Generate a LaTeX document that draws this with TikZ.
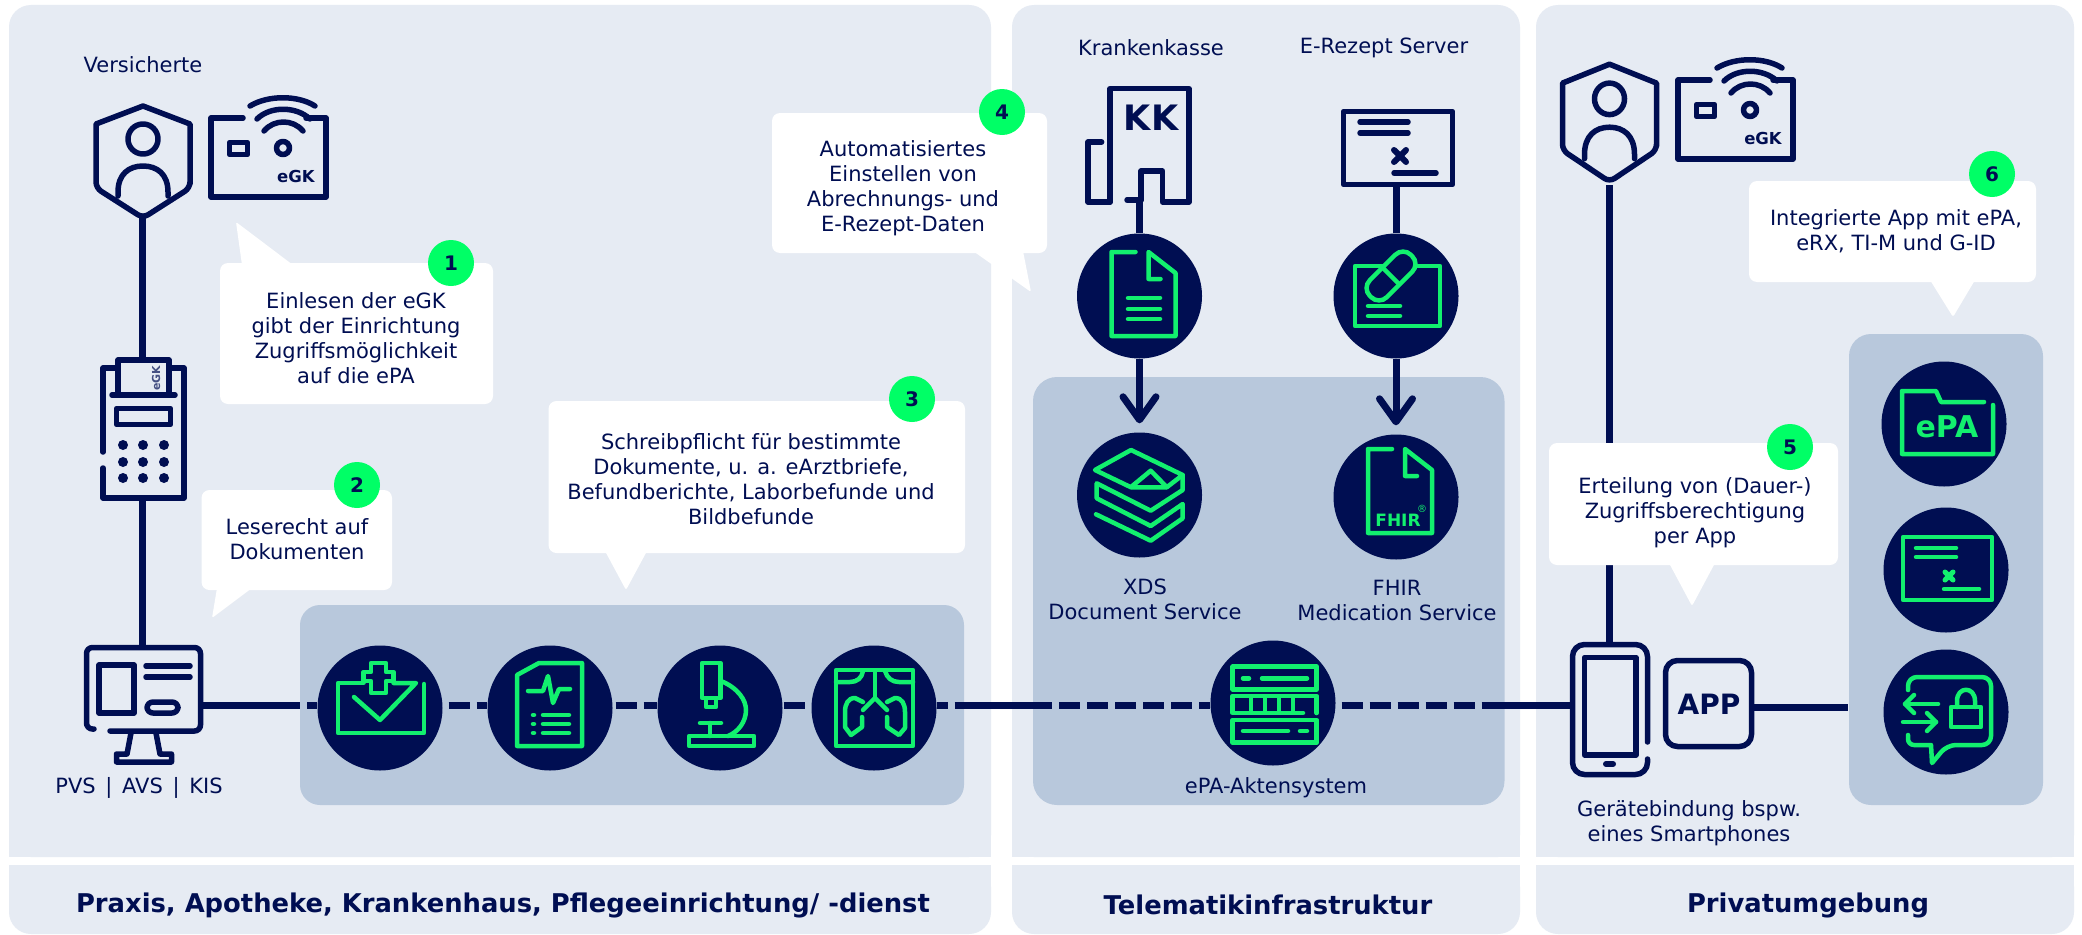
\documentclass[tikz,border=0pt]{standalone}
\usepackage{fontspec}
\setmainfont{DejaVu Sans}
\usetikzlibrary{arrows.meta}
\definecolor{gnavy}{HTML}{000E52}
\definecolor{panelc}{HTML}{E6EBF3}
\definecolor{subc}{HTML}{B8C8DC}
\definecolor{iconc}{HTML}{12F06E}
\definecolor{badgec}{HTML}{00FF66}
\pgfdeclarelayer{panels}\pgfdeclarelayer{conn}
\pgfsetlayers{panels,conn,main}
\tikzset{
 ink/.style={draw=gnavy,line width=5.5pt,line join=round,line cap=round},
 gl/.style={draw=iconc,line width=4.5pt,line join=round,line cap=round},
 link/.style={draw=gnavy,line width=7pt},
 dashlink/.style={draw=gnavy,line width=7pt,dash pattern=on 21pt off 7pt},
 bub/.style={circle,fill=gnavy,minimum size=125pt,inner sep=0pt},
 iconbox/.style={rectangle,inner sep=0pt},
 lbl/.style={inner sep=0pt,align=center,text=gnavy,font=\fontsize{21}{25}\selectfont},
 foot/.style={inner sep=0pt,text=gnavy,font=\fontsize{25.8}{28}\bfseries\selectfont},
 badge/.style={circle,fill=badgec,minimum size=46pt,inner sep=0pt,text=gnavy,font=\fontsize{20}{20}\bfseries\selectfont},
 calloutbox/.style={rectangle,fill=white,rounded corners=8pt,inner sep=0pt},
 tail/.style={fill=white,rounded corners=1.5pt},
 pics/shieldicon/.style={code={
   \draw[ink] (0,-56) -- (47,-38) -- (47,22) [rounded corners=6pt] -- (47,26) -- (0,56) -- (-47,26) [sharp corners] -- (-47,-38) -- cycle;
   \draw[ink] (0,-23) circle (15);
   \draw[ink] (-25,34) -- (-25,30) .. controls (-25,12) and (-14,4) .. (0,4) .. controls (14,4) and (25,12) .. (25,30) -- (25,34);
 }},
 pics/cardicon/.style={code={
   \draw[ink] (243,118) -- (211,118) -- (211,197) -- (326,197) -- (326,118) -- (306,118);
   \draw[ink,fill=panelc] (229.5,142.5) rectangle (247.5,154.5);
   \draw[ink,fill=panelc] (283,148) circle (6.5);
   \draw[ink] (264,131) .. controls (274,119) and (293,119) .. (303,131);
   \draw[ink] (257,119) .. controls (270,106) and (296,106) .. (310,119);
   \draw[ink] (250,106) .. controls (268,95) and (298,95) .. (315,106);
   \node[inner sep=0pt,text=gnavy,font=\fontsize{16.5}{16.5}\bfseries\selectfont] at (296,176) {eGK};
 }},
 pics/docicon/.style={code={
   \draw[gl] (-4,-44) -- (-28,-44) -- (-28,40) -- (36,40) -- (36,-23) -- (9,-44) -- (9,-17) -- (21,-17);
 }}
}
\begin{document}
\begin{tikzpicture}[x=1pt,y=-1pt]
\useasboundingbox (0,0) rectangle (2082,934);
\begin{pgfonlayer}{panels}
 \fill[white] (0,0) rectangle (2082,934);
 % big panels
 \fill[panelc,rounded corners=22pt] (9,5) rectangle (991,857);
 \fill[panelc] (9,60) rectangle (991,857);
 \fill[panelc,rounded corners=22pt] (1012,5) rectangle (1520,857);
 \fill[panelc] (1012,60) rectangle (1520,857);
 \fill[panelc,rounded corners=22pt] (1536,5) rectangle (2074,857);
 \fill[panelc] (1536,60) rectangle (2074,857);
 % footers
 \fill[panelc,rounded corners=22pt] (9,865) rectangle (991,934);
 \fill[panelc] (9,865) rectangle (991,900);
 \fill[panelc,rounded corners=22pt] (1012,865) rectangle (1520,934);
 \fill[panelc] (1012,865) rectangle (1520,900);
 \fill[panelc,rounded corners=22pt] (1536,865) rectangle (2074,934);
 \fill[panelc] (1536,865) rectangle (2074,900);
 % inner panels
 \fill[subc,rounded corners=20pt] (300,605) rectangle (964,805);
 \fill[subc,rounded corners=24pt] (1033,377) rectangle (1504.5,805);
 \fill[subc,rounded corners=22pt] (1849,334) rectangle (2043,805);
\end{pgfonlayer}

% anchor nodes of the line icons
\node[iconbox,minimum width=94pt,minimum height=112pt] (shieldL) at (142.5,162) {};
\node[iconbox,minimum width=94pt,minimum height=118pt] (shieldR) at (1609,126) {};
\node[iconbox,minimum width=85pt,minimum height=140pt] (term) at (142.5,428) {};
\node[iconbox,minimum width=119pt,minimum height=118pt] (pc) at (143.5,704) {};
\node[iconbox,minimum width=80pt,minimum height=135pt] (phone) at (1610,709.5) {};
\node[iconbox,minimum width=91pt,minimum height=91pt] (app) at (1708.5,707) {};
\node[iconbox,minimum width=100pt,minimum height=114pt] (kk) at (1139,145) {};
\node[iconbox,minimum width=113pt,minimum height=77pt] (rez) at (1396,147.5) {};
\coordinate (s0) at (300,705);
\coordinate (s1) at (1033,705);
\coordinate (s2) at (1503,705);
\coordinate (s3) at (1848,707);

% circles
\node[bub] (c1) at (380,708) {};
\node[bub] (c2) at (550,708) {};
\node[bub] (c3) at (720,708) {};
\node[bub] (c4) at (874,708) {};
\node[bub] (kdoc) at (1139.5,296) {};
\node[bub] (rx) at (1396,296) {};
\node[bub] (xds) at (1139.5,495) {};
\node[bub] (fhir) at (1396,497) {};
\node[bub] (akte) at (1273,703) {};
\node[bub] (epa) at (1944,424) {};
\node[bub] (cert) at (1946,570) {};
\node[bub] (lock) at (1946,712) {};

\begin{pgfonlayer}{conn}
 \draw[link] (shieldL.south) -- (shieldL.south |- term.north);
 \draw[link] (term.south) -- (term.south |- pc.north);
 \draw[link] (pc.east |- s0) -- (s0);
 \draw[dashlink,dash phase=21pt] (s0) -- (s0 -| c1.west);
 \draw[dashlink,dash phase=22pt] (s0 -| c1.east) -- (s0 -| c2.west);
 \draw[dashlink,dash phase=25pt] (s0 -| c2.east) -- (s0 -| c3.west);
 \draw[dashlink,dash phase=27pt] (s0 -| c3.east) -- (s0 -| c4.west);
 \draw[link,dash pattern=on 11pt off 7pt on 100pt off 0pt] (s0 -| c4.east) -- (s1);
 \draw[dashlink,dash phase=2pt] (s1) -- (s1 -| akte.west);
 \draw[dashlink,dash phase=22pt] (s1 -| akte.east) -- (s2);
 \draw[link] (s2) -- (s2 -| phone.west);
 \draw[link] (shieldR.south) -- (shieldR.south |- phone.north);
 \draw[link] (app.east) -- (s3);
 \draw[link] (kdoc.north) -- (kdoc.north |- kk.south);
 \draw[link] (rx.north) -- (rx.north |- rez.south);
 \draw[link,line cap=butt,-{Straight Barb[length=23pt,width=33pt,round]},shorten >=9pt] (kdoc.south) -- (xds.north);
 \draw[link,line cap=butt,-{Straight Barb[length=23pt,width=33pt,round]},shorten >=9pt] (rx.south) -- (fhir.north);
\end{pgfonlayer}

% persons and cards
\pic at (143,162) {shieldicon};
\pic at (0,0) {cardicon};
\pic at (1609.5,123) [yscale=1.05] {shieldicon};
\begin{scope}[shift={(1467,-38)}]\pic at (0,0) {cardicon};\end{scope}

% terminal
\draw[ink] (116,368) -- (103,368) -- (103,452);
\draw[ink] (103,468) -- (103,498) -- (184,498) -- (184,368) -- (171,368);
\draw[ink] (118,395) -- (118,360) -- (169,360) -- (169,395);
\draw[ink] (112,395) -- (175,395);
\draw[ink] (116.5,408.5) rectangle (170.5,424.5);
\foreach \xx in {123,143,164}{\foreach \yy in {445,462,478}{\fill[gnavy] (\xx,\yy) circle (5);}}
\node[inner sep=0pt,rotate=90,text=gnavy!70!panelc,font=\fontsize{11}{11}\bfseries\selectfont] at (156,378) {eGK};

% PC
\draw[ink,rounded corners=6pt] (94,729) -- (86.5,729) -- (86.5,647.5) -- (200.5,647.5) -- (200.5,731) -- (110,731);
\draw[ink] (99,665) rectangle (134,713);
\draw[ink] (146,666) -- (190,666);
\draw[ink] (146,677) -- (190,677);
\draw[ink,rounded corners=6pt] (147,702) rectangle (178,713);
\draw[ink] (131,733) -- (127,754) -- (116.5,754) -- (116.5,762) -- (171.5,762) -- (171.5,754) -- (160,754) -- (156,733);

% phone and app
\draw[ink,rounded corners=12pt] (1647.5,742) -- (1647.5,644.5) -- (1572.5,644.5) -- (1572.5,774.5) -- (1647.5,774.5) -- (1647.5,759);
\draw[ink] (1584.5,657.5) rectangle (1636,755);
\draw[ink,line width=6pt] (1606,764) -- (1613,764);
\draw[ink,rounded corners=12pt] (1665.5,660.5) rectangle (1751.5,746.5);
\node[inner sep=0pt,text=gnavy,font=\fontsize{28}{28}\bfseries\selectfont] at (1709,704) {APP};

% Krankenkasse building
\draw[ink] (1110,202) -- (1110,88.6) -- (1189,88.6) -- (1189,202) -- (1162.5,202) -- (1162.5,171) -- (1141,171) -- (1141,200);
\draw[ink] (1127,200) -- (1141,200);
\draw[ink] (1101.6,142) -- (1088,142) -- (1088,202) -- (1110,202);
\node[inner sep=0pt,text=gnavy,font=\fontsize{35}{35}\bfseries\selectfont] at (1151,118) {KK};

% E-Rezept certificate
\draw[ink] (1343.5,111.5) rectangle (1452.5,184.5);
\draw[ink] (1360,122) -- (1408,122);
\draw[ink] (1360,133) -- (1408,133);
\draw[ink,line width=6pt] (1394,150) -- (1406,162);
\draw[ink,line width=6pt] (1406,150) -- (1394,162);
\draw[ink] (1394,173) -- (1436,173);

% green icons
\pic at (1139.5,296) {docicon};
\foreach \yy in {298,309,319}{\draw[gl] (1128,\yy) -- (1160,\yy);}
\pic at (1396,493) {docicon};
\node[inner sep=0pt,text=iconc,font=\fontsize{17}{17}\bfseries\selectfont] at (1398,520) {FHIR};
\node[inner sep=0pt,text=iconc,font=\fontsize{10}{10}\selectfont] at (1422,509) {®};
% Rx
\draw[gl] (1355,266) rectangle (1440,326);
\node[rotate=45,rectangle,rounded corners=11pt,draw=iconc,line width=4.5pt,fill=gnavy,minimum width=58pt,minimum height=24pt,inner sep=0pt] (pill) at (1391,276) {};
\draw[gl] (1383,268) -- (1399,284);
\draw[gl] (1368,306) -- (1400,306);
\draw[gl] (1368,316) -- (1400,316);
% stack
\draw[gl] (1095,470) -- (1131,450) -- (1182.7,475) -- (1166.7,487.3) -- (1131,487.3) -- cycle;
\draw[gl] (1131,487) -- (1150.7,470.7) -- (1166.7,487);
\draw[gl] (1182.7,475) -- (1182.7,490) -- (1150.7,510.7) -- (1096.7,483.3) -- (1096.7,498.3) -- (1150.7,526) -- (1182.7,504) -- (1182.7,518.3) -- (1150.7,540.7) -- (1096,514.3);
% server
\draw[gl] (1232.7,666.7) rectangle (1316.7,689.3);
\draw[gl] (1243,678.3) -- (1249,678.3);
\draw[gl] (1262,678.3) -- (1307,678.3);
\draw[gl] (1303,713) -- (1232.7,713) -- (1232.7,696) -- (1316.7,696) -- (1316.7,713);
\foreach \xx in {1251,1265,1279,1293}{\draw[gl,line cap=butt] (\xx,696) -- (\xx,713);}
\draw[gl] (1232.7,720) rectangle (1316.7,742.7);
\draw[gl] (1243,731) -- (1288,731);
\draw[gl] (1300,731) -- (1307,731);
% inbox with cross
\draw[gl] (363.5,683) -- (338,683) -- (338,733) -- (424,733) -- (424,684);
\draw[gl] (354,697) -- (380,720) -- (416,683) -- (393.5,683);
\draw[gl] (371,672) -- (371,663) -- (386,663) -- (386,672) -- (393.5,672) -- (393.5,681) -- (386,681) -- (386,693) -- (371,693) -- (371,681) -- (363.5,681) -- (363.5,672) -- cycle;
% ecg doc
\draw[gl] (539,663) -- (582,663) -- (582,746) -- (517,746) -- (517,675) -- cycle;
\draw[gl] (528,691) -- (543,691) -- (548,676) -- (553,703) -- (559,689) -- (570,689);
\foreach \yy in {715,724,733}{\draw[gl] (533,\yy) -- (534,\yy); \draw[gl] (543,\yy) -- (569,\yy);}
% microscope
\draw[gl] (702,698) -- (702,663) -- (720.5,663) -- (720.5,698) -- cycle;
\draw[gl] (706,699) -- (706,707) -- (716,707) -- (716,699);
\draw[gl] (721,681) .. controls (738,688) and (746,700) .. (746,710) .. controls (746,722) and (738,732) .. (728,736);
\draw[gl] (700,723) -- (721,723);
\draw[gl] (710,723) -- (710,736);
\draw[gl] (689,736) rectangle (754,746);
% lungs
\draw[gl] (836,670) rectangle (913,746);
\draw[gl] (836,682) -- (850,682) .. controls (857,682) and (862,678) .. (863,671);
\draw[gl] (913,682) -- (899,682) .. controls (892,682) and (887,678) .. (885,671);
\draw[gl] (875,671) -- (875,698);
\draw[gl] (863,710) -- (875,698) -- (887,710);
\draw[gl] (863,702) -- (855,698) .. controls (848,698) and (845,704) .. (845,712) -- (845,727) -- (851,735) -- (862,727) -- (862,717);
\draw[gl] (887,702) -- (895,698) .. controls (902,698) and (905,704) .. (905,712) -- (905,728) -- (899,735) -- (887,727) -- (887,717);
% folder
\draw[gl] (1984,402) -- (1941,402) -- (1936,391) -- (1902,391) -- (1902,454) -- (1993,454) -- (1993,405);
\node[inner sep=0pt,text=iconc,font=\fontsize{30}{30}\bfseries\selectfont] at (1947,427) {ePA};
% cert green
\draw[gl] (1903,537) rectangle (1992,600);
\draw[gl] (1916,548) -- (1956,548);
\draw[gl] (1916,557) -- (1956,557);
\draw[gl,line width=5pt] (1945,572) -- (1953,580);
\draw[gl,line width=5pt] (1953,572) -- (1945,580);
\draw[gl] (1944,589) -- (1979,589);
% lock bubble
\draw[gl,rounded corners=9pt] (1908,690) -- (1908,677) -- (1991,677) -- (1991,745) -- (1947,745) [sharp corners] -- (1932,763) -- (1931,745) [rounded corners=6pt] -- (1908,745) -- (1908,735);
\draw[gl] (1951,707) rectangle (1981,727);
\draw[gl] (1957,707) -- (1957,701) .. controls (1957,686) and (1975,686) .. (1975,701) -- (1975,707);
\draw[gl] (1938,704) -- (1905,704);
\draw[gl] (1914,695) -- (1905,704) -- (1914,713);
\draw[gl] (1903,722) -- (1936,722);
\draw[gl] (1927,713) -- (1936,722) -- (1927,731);

% callouts
\fill[tail] (242,265) -- (236,222) -- (293,265) -- cycle;
\node[calloutbox,minimum width=273pt,minimum height=141pt] (box1) at (356.5,333.5) {};
\fill[tail] (217,588) -- (212,618) -- (252,588) -- cycle;
\node[calloutbox,minimum width=190.5pt,minimum height=100pt] (box2) at (296.75,540) {};
\fill[tail] (605,551) -- (626,590) -- (647,551) -- cycle;
\node[calloutbox,minimum width=416.5pt,minimum height=152pt] (box3) at (756.75,477) {};
\fill[tail] (973,251) -- (1031,292) -- (1023,251) -- cycle;
\node[calloutbox,minimum width=275pt,minimum height=140pt] (box4) at (909.5,183) {};
\fill[tail] (1669,563) -- (1692,606) -- (1715,563) -- cycle;
\node[calloutbox,minimum width=289pt,minimum height=122pt] (box5) at (1693.5,504) {};
\fill[tail] (1930,280) -- (1953,317) -- (1975,280) -- cycle;
\node[calloutbox,minimum width=287pt,minimum height=101pt] (box6) at (1892.5,231.5) {};

\node[badge] (b1) at (451,263) {1};
\node[badge] (b2) at (357,485) {2};
\node[badge] (b3) at (912,399) {3};
\node[badge] (b4) at (1002,112) {4};
\node[badge] (b5) at (1790,447) {5};
\node[badge] (b6) at (1992,174) {6};

\node[lbl] (t1) at (356,338) {Einlesen der eGK\\gibt der Einrichtung\\Zugriffsmöglichkeit\\auf die ePA};
\node[lbl] (t2) at (297,539) {Leserecht auf\\Dokumenten};
\node[lbl] (t3) at (751,479) {Schreibpflicht für bestimmte\\Dokumente, u. a. eArztbriefe,\\Befundberichte, Laborbefunde und\\Bildbefunde};
\node[lbl] (t4) at (903,188) {Automatisiertes\\Einstellen von\\Abrechnungs- und\\E-Rezept-Daten};
\node[lbl] (t5) at (1695,512.5) {Erteilung von (Dauer-)\\Zugriffsberechtigung\\per App};
\node[lbl] (t6) at (1896,231) {Integrierte App mit ePA,\\eRX, TI-M und G-ID};

\node[lbl] (vers) at (143,65) {Versicherte};
\node[lbl] (kklbl) at (1151,47.5) {Krankenkasse};
\node[lbl] (rezlbl) at (1384,47.5) {E-Rezept Server};
\node[lbl] (pvs) at (139,788) {PVS\hspace{3pt} | \hspace{3pt}AVS\hspace{3pt} | \hspace{3pt}KIS};
\node[lbl] (xdslbl) at (1145,599.5) {XDS\\Document Service};
\node[lbl] (fhirlbl) at (1397,600.5) {FHIR\\Medication Service};
\node[lbl] (aktelbl) at (1276,788) {ePA-Aktensystem};
\node[lbl] (gerlbl) at (1689,823) {Gerätebindung bspw.\\eines Smartphones};

\node[foot] (f1) at (503,905) {Praxis, Apotheke, Krankenhaus, Pflegeeinrichtung/ -dienst};
\node[foot] (f2) at (1268,905) {Telematikinfrastruktur};
\node[foot] (f3) at (1808,905) {Privatumgebung};
\end{tikzpicture}
\end{document}
